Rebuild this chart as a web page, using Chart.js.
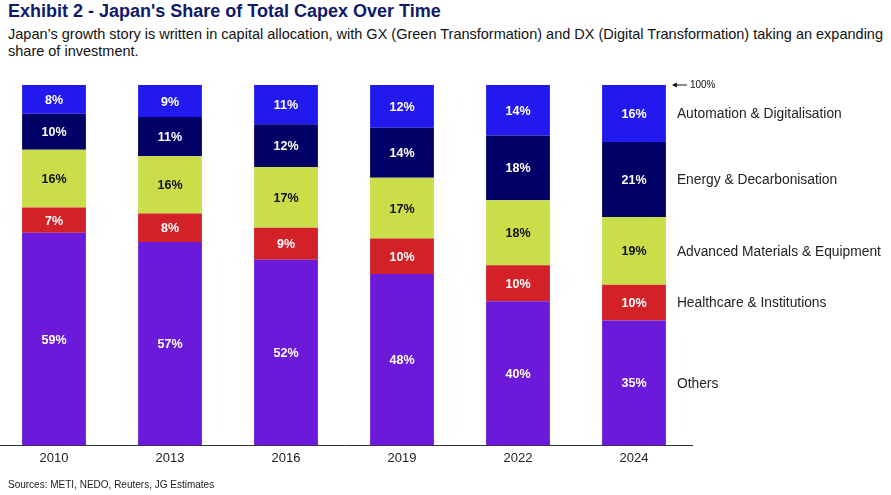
<!DOCTYPE html>
<html>
<head>
<meta charset="utf-8">
<script src="https://cdn.jsdelivr.net/npm/chart.js@4.4.1/dist/chart.umd.min.js"></script>
<style>
  html, body { margin: 0; padding: 0; background: #fff; }
  body { width: 891px; height: 495px; position: relative; overflow: hidden; font-family: "Liberation Sans Narrow", "Liberation Sans", Arial, sans-serif; }
  .title { position: absolute; left: 8px; top: 1px; font-size: 18px; font-weight: bold; color: #0f1a6b; white-space: nowrap; }
  .sub { position: absolute; left: 8px; top: 26px; font-size: 14.5px; line-height: 17px; color: #111; width: 880px; }
  .src { position: absolute; left: 8px; top: 479px; font-family: "Liberation Sans", Arial, sans-serif; font-size: 10px; color: #222; }
  .wrap { position: absolute; left: -4px; top: 0; width: 895px; height: 495px; }
</style>
</head>
<body>
<div class="title">Exhibit 2 - Japan's Share of Total Capex Over Time</div>
<div class="sub">Japan’s growth story is written in capital allocation, with GX (Green Transformation) and DX (Digital Transformation) taking an expanding share of investment.</div>
<div class="wrap"><canvas id="capexChart"></canvas></div>
<div class="src">Sources: METI, NEDO, Reuters, JG Estimates</div>
<script>
// Share of total capex (%), as printed on the bars
const years = ["2010", "2013", "2016", "2019", "2022", "2024"];
const others = [59, 57, 52, 48, 40, 35];
const healthcare = [7, 8, 9, 10, 10, 10];
const materials = [16, 16, 17, 17, 18, 19];
const energy = [10, 11, 12, 14, 18, 21];
const automation = [8, 9, 11, 12, 14, 16];

const seriesNames = ["Others", "Healthcare & Institutions", "Advanced Materials & Equipment", "Energy & Decarbonisation", "Automation & Digitalisation"];
const seriesValues = [others, healthcare, materials, energy, automation];
const seriesColors = ["#6a1ad8", "#d22127", "#c9de48", "#000066", "#2219ef"];
const labelColors = ["#fff", "#fff", "#111", "#fff", "#fff"];

// printed shares are rounded, so each bar is scaled to fill 100%
const totals = years.map((y, i) => seriesValues.reduce((s, arr) => s + arr[i], 0));

const datasets = seriesValues.map((vals, k) => ({
  label: seriesNames[k],
  data: vals.map((v, i) => v / totals[i] * 100),
  raw: vals,
  backgroundColor: seriesColors[k],
  borderWidth: 0,
  barPercentage: 0.55,
  categoryPercentage: 1.0,
}));

const labelsPlugin = {
  id: "segLabels",
  afterDatasetsDraw(chart) {
    const ctx = chart.ctx;
    ctx.save();
    ctx.textAlign = "center";
    ctx.textBaseline = "middle";
    ctx.font = "bold 12.5px 'Liberation Sans', Arial, sans-serif";
    chart.data.datasets.forEach((ds, k) => {
      const meta = chart.getDatasetMeta(k);
      meta.data.forEach((bar, i) => {
        ctx.fillStyle = labelColors[k];
        ctx.fillText(ds.raw[i] + "%", bar.x, (bar.y + bar.base) / 2 + 1);
      });
      // series names next to the last bar
      const last = meta.data[meta.data.length - 1];
      ctx.save();
      ctx.textAlign = "left";
      ctx.fillStyle = "#222";
      ctx.font = "13.8px 'Liberation Sans Narrow', 'Liberation Sans', Arial, sans-serif";
      ctx.fillText(ds.label, last.x + last.width / 2 + 11, (last.y + last.base) / 2 + 1);
      ctx.restore();
    });
    // 100% marker
    const lastBar = chart.getDatasetMeta(0).data[years.length - 1];
    const y100 = chart.scales.y.getPixelForValue(100);
    const x0 = lastBar.x + lastBar.width / 2 + 6;
    ctx.strokeStyle = "#111";
    ctx.fillStyle = "#111";
    ctx.lineWidth = 1;
    ctx.beginPath();
    ctx.moveTo(x0 + 3, y100);
    ctx.lineTo(x0 + 15, y100);
    ctx.stroke();
    ctx.beginPath();
    ctx.moveTo(x0, y100);
    ctx.lineTo(x0 + 5, y100 - 2.5);
    ctx.lineTo(x0 + 5, y100 + 2.5);
    ctx.closePath();
    ctx.fill();
    ctx.textAlign = "left";
    ctx.font = "10px 'Liberation Sans', Arial, sans-serif";
    ctx.fillText("100%", x0 + 18, y100);
    ctx.restore();
  },
};

const capexCtx = document.getElementById("capexChart").getContext("2d");
const capexChart = new Chart(capexCtx, {
  type: "bar",
  data: { labels: years, datasets: datasets },
  options: {
    responsive: true,
    maintainAspectRatio: false,
    animation: false,
    layout: { padding: { top: 85, right: 199, bottom: 24, left: 0 } },
    plugins: {
      legend: { display: false },
      tooltip: { enabled: false },
    },
    scales: {
      x: {
        stacked: true,
        grid: { display: false, drawTicks: false, tickLength: 0 },
        border: { display: true, color: "#333", width: 1 },
        ticks: { color: "#222", font: { size: 13, family: "'Liberation Sans', Arial, sans-serif" }, padding: 5 },
      },
      y: {
        stacked: true,
        display: false,
        min: 0,
        max: 100,
      },
    },
  },
  plugins: [labelsPlugin],
});
</script>
</body>
</html>
